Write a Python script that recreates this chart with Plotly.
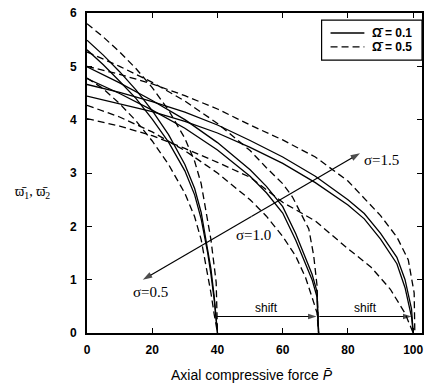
import plotly.graph_objects as go

# ---------------- data ----------------
# sigma = 0.5  (critical load ~40)
p05_solid = [0, 5, 10, 15, 20, 25, 30, 33, 35, 37, 38, 39, 40]
w05_solid_a = [5.49, 5.21, 4.90, 4.56, 4.17, 3.72, 3.16, 2.71, 2.26, 1.60, 1.20, 0.68, 0]
w05_solid_b = [5.31, 5.03, 4.72, 4.40, 4.01, 3.58, 3.04, 2.59, 2.14, 1.50, 1.10, 0.62, 0]
p05_dash_a = [0, 5, 10, 15, 20, 25, 30, 33, 35, 37, 38, 39, 39.6, 40]
w05_dash_a = [5.80, 5.55, 5.27, 4.96, 4.60, 4.18, 3.65, 3.22, 2.80, 2.15, 1.75, 1.25, 0.95, 0]
p05_dash_b = [0, 5, 10, 15, 20, 25, 30, 33, 35, 37, 38, 39, 40]
w05_dash_b = [4.78, 4.58, 4.30, 3.98, 3.60, 3.16, 2.62, 2.18, 1.75, 1.10, 0.75, 0.35, 0]

# sigma = 1.0  (critical load ~71)
p10_solid = [0, 10, 20, 30, 40, 50, 55, 60, 64, 67, 69, 70.5, 71]
w10_solid_a = [4.99, 4.69, 4.36, 4.00, 3.57, 3.06, 2.75, 2.37, 1.86, 1.42, 1.10, 0.78, 0]
w10_solid_b = [4.77, 4.49, 4.18, 3.84, 3.43, 2.94, 2.63, 2.25, 1.74, 1.30, 1.00, 0.68, 0]
p10_dash_a = [0, 10, 20, 30, 40, 50, 55, 60, 63, 66, 68, 69.5, 70.5, 71]
w10_dash_a = [5.27, 5.00, 4.70, 4.35, 3.93, 3.42, 3.10, 2.80, 2.55, 2.20, 1.95, 1.45, 0.90, 0]
p10_dash_b = [0, 10, 20, 30, 40, 50, 55, 60, 64, 67, 69, 70.5, 71]
w10_dash_b = [4.27, 4.05, 3.77, 3.42, 3.00, 2.50, 2.19, 1.81, 1.44, 1.04, 0.67, 0.38, 0]

# sigma = 1.5  (critical load ~100)
p15_solid = [0, 10, 20, 30, 40, 50, 60, 70, 80, 85, 90, 95, 97.5, 99.5, 100]
w15_solid_a = [4.66, 4.51, 4.34, 4.14, 3.90, 3.61, 3.30, 2.94, 2.50, 2.24, 1.87, 1.42, 1.00, 0.45, 0]
w15_solid_b = [4.44, 4.30, 4.15, 3.97, 3.75, 3.48, 3.18, 2.82, 2.40, 2.14, 1.76, 1.30, 0.85, 0.30, 0]
p15_dash_a = [0, 10, 20, 30, 40, 50, 60, 70, 80, 90, 95, 98.5, 100.3, 100.5]
w15_dash_a = [5.00, 4.85, 4.67, 4.45, 4.20, 3.90, 3.62, 3.30, 2.85, 2.20, 1.80, 1.37, 0.75, 0]
p15_dash_b = [0, 10, 20, 30, 40, 50, 60, 70, 80, 87, 93, 97.5, 100]
w15_dash_b = [4.02, 3.88, 3.70, 3.46, 3.20, 2.92, 2.45, 2.10, 1.58, 1.24, 0.82, 0.37, 0]

# annotation arrows: sigma direction and the two "shift" arrows
sigma_arrow_p = [17.1, 83.7]
sigma_arrow_w = [1.0, 3.37]
shift1_p = [39.8, 70.4]
shift2_p = [71.2, 99.5]
shift_w = 0.31

x_ticks = [0, 20, 40, 60, 80, 100]
y_ticks = [0, 1, 2, 3, 4, 5, 6]
legend_labels = ["Ω̄ = 0.1", "Ω̄ = 0.5"]
sigma_labels = ["σ=0.5", "σ=1.0", "σ=1.5"]
shift_label = "shift"

# ---------------- figure ----------------
fig = go.Figure()
solid_sets = [(p05_solid, w05_solid_a), (p05_solid, w05_solid_b),
              (p10_solid, w10_solid_a), (p10_solid, w10_solid_b),
              (p15_solid, w15_solid_a), (p15_solid, w15_solid_b)]
dash_sets = [(p05_dash_a, w05_dash_a), (p05_dash_b, w05_dash_b),
             (p10_dash_a, w10_dash_a), (p10_dash_b, w10_dash_b),
             (p15_dash_a, w15_dash_a), (p15_dash_b, w15_dash_b)]
DASH = "7px,4px"

for px, wy in solid_sets:
    fig.add_trace(go.Scatter(x=px, y=wy, mode="lines",
                             line=dict(color="black", width=1.3),
                             name=legend_labels[0], showlegend=False, hoverinfo="skip"))
for px, wy in dash_sets:
    fig.add_trace(go.Scatter(x=px, y=wy, mode="lines",
                             line=dict(color="black", width=1.3, dash=DASH),
                             name=legend_labels[1], showlegend=False, hoverinfo="skip"))


def arrow(xs, ys, width=1.2, size=10):
    """line from xs[0],ys[0] to xs[1],ys[1] with a filled head at the second point"""
    fig.add_trace(go.Scatter(x=xs, y=ys, mode="lines+markers",
                             line=dict(color="black", width=width),
                             marker=dict(symbol="arrow", size=[0, size], angleref="previous",
                                         color="black", line=dict(width=0)),
                             showlegend=False, hoverinfo="skip"))


# double-headed sigma arrow: drawn as two halves from its midpoint
mid_p = (sigma_arrow_p[0] + sigma_arrow_p[1]) / 2
mid_w = (sigma_arrow_w[0] + sigma_arrow_w[1]) / 2
arrow([mid_p, sigma_arrow_p[1]], [mid_w, sigma_arrow_w[1]])
arrow([mid_p, sigma_arrow_p[0]], [mid_w, sigma_arrow_w[0]])
arrow(shift1_p, [shift_w, shift_w], width=1.1, size=9)
arrow(shift2_p, [shift_w, shift_w], width=1.1, size=9)

tickfont = dict(family="Liberation Sans, Arial, sans-serif", size=12, color="black", weight="bold")
axis_common = dict(showline=True, linecolor="black", linewidth=1.6, mirror="allticks",
                   ticks="inside", ticklen=5, tickwidth=1.2, tickcolor="black",
                   showgrid=False, zeroline=False, tickfont=tickfont)
fig.update_xaxes(range=[0, 102.7], tickvals=x_ticks, ticklabelstandoff=5, **axis_common)
fig.update_yaxes(range=[0, 6], tickvals=y_ticks, ticklabelstandoff=6, **axis_common)

serif = "Liberation Serif, Times New Roman, serif"
sans = "Liberation Sans, Arial, sans-serif"
ann = []
ann.append(dict(x=19.5, y=0.77, xref="x", yref="y", text=sigma_labels[0], showarrow=False,
                xanchor="center", yanchor="middle", font=dict(family=serif, size=15, color="black")))
ann.append(dict(x=51, y=1.84, xref="x", yref="y", text=sigma_labels[1], showarrow=False,
                xanchor="center", yanchor="middle", font=dict(family=serif, size=15, color="black")))
ann.append(dict(x=84.3, y=3.24, xref="x", yref="y", text=sigma_labels[2], showarrow=False,
                xanchor="left", yanchor="middle", font=dict(family=serif, size=15, color="black")))
ann.append(dict(x=55, y=0.30, xref="x", yref="y", text=shift_label, showarrow=False,
                xanchor="center", yanchor="bottom", font=dict(family=sans, size=12, color="black")))
ann.append(dict(x=85.5, y=0.30, xref="x", yref="y", text=shift_label, showarrow=False,
                xanchor="center", yanchor="bottom", font=dict(family=sans, size=12, color="black")))
# axis titles
ann.append(dict(x=0.4926, y=-0.131, xref="paper", yref="paper",
                text="Axial compressive force <i>P̄</i>", showarrow=False,
                xanchor="center", yanchor="middle",
                font=dict(family=sans, size=14, color="black")))
ann.append(dict(x=-0.163, y=0.44, xref="paper", yref="paper",
                text="ϖ̄<sub>1</sub>, ϖ̄<sub>2</sub>", showarrow=False,
                xanchor="center", yanchor="middle",
                font=dict(family=serif, size=14, color="black")))

# legend (drawn as a framed key in the upper-right corner)
shapes = [
    dict(type="rect", xref="paper", yref="paper", x0=0.7003, x1=1.0, y0=0.853, y1=0.978,
         line=dict(color="black", width=1.2), fillcolor="white", layer="above"),
    dict(type="line", xref="paper", yref="paper", x0=0.727, x1=0.828, y0=0.9375, y1=0.9375,
         line=dict(color="black", width=1.3), layer="above"),
    dict(type="line", xref="paper", yref="paper", x0=0.727, x1=0.828, y0=0.894, y1=0.894,
         line=dict(color="black", width=1.3, dash=DASH), layer="above"),
]
ann.append(dict(x=0.846, y=0.9375, xref="paper", yref="paper", text=legend_labels[0],
                showarrow=False, xanchor="left", yanchor="middle",
                font=dict(family=sans, size=12, color="black", weight="bold")))
ann.append(dict(x=0.846, y=0.894, xref="paper", yref="paper", text=legend_labels[1],
                showarrow=False, xanchor="left", yanchor="middle",
                font=dict(family=sans, size=12, color="black", weight="bold")))

fig.update_layout(
    width=429, height=392,
    margin=dict(l=87, r=5, t=13, b=59),
    paper_bgcolor="white", plot_bgcolor="white",
    annotations=ann, shapes=shapes, showlegend=False,
)
fig.write_html("out.html")
